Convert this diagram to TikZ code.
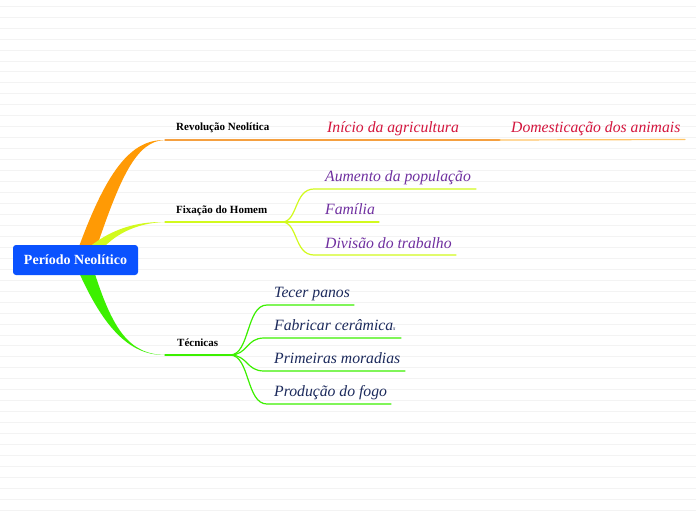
\documentclass[tikz,border=0pt]{standalone}
\usepackage{fontspec}
\setmainfont{Liberation Serif}
\definecolor{nodeblue}{HTML}{0A52FF}
\definecolor{borange}{HTML}{FF9A05}
\definecolor{lorange}{HTML}{F5A040}
\definecolor{paleorange}{HTML}{FFC466}
\definecolor{byellow}{HTML}{D2FA1E}
\definecolor{bgreen}{HTML}{3CF000}
\definecolor{redtxt}{HTML}{D4163E}
\definecolor{purptxt}{HTML}{7030A0}
\definecolor{navytxt}{HTML}{1C2A5C}
\definecolor{bgline}{HTML}{F3F3F3}
\tikzset{
  rootbox/.style={fill=nodeblue,rounded corners=3pt,text=white,font=\fontsize{14}{16}\selectfont\bfseries,minimum width=125pt,minimum height=30pt,inner sep=0pt},
  toplabel/.style={anchor=base west,inner sep=0pt,font=\fontsize{11}{13}\selectfont\bfseries,text=black},
  leaf/.style={anchor=base west,inner sep=0pt,font=\fontsize{15.7}{18}\selectfont\itshape},
  thinline/.style={line width=1.2pt,line cap=round}
}
\begin{document}
\begin{tikzpicture}[x=1pt,y=-1pt]
\useasboundingbox (0,0) rectangle (696,520);
\fill[white] (0,0) rectangle (696,520);
% background ruling
\foreach \n in {0,...,46}{
  \draw[bgline,line width=0.6pt] (0,{6+10.96*\n}) -- (696,{6+10.96*\n});
}
% coordinates
\coordinate (rev) at (165,140);
\coordinate (fix) at (165,222);
\coordinate (tec) at (165,355);
\coordinate (fixj) at (282,222);
\coordinate (tecj) at (230,355);
% thick tapered branches
\fill[borange] (77,252) .. controls (106,172) and (130,139.4) .. (rev) .. controls (136,140.8) and (120,178) .. (95,252) -- cycle;
\fill[byellow] (88,248) .. controls (110,230) and (135,221.4) .. (fix) .. controls (135,222.8) and (112,236) .. (100,252) -- cycle;
\fill[bgreen] (77,268) .. controls (102,325) and (128,355.6) .. (tec) .. controls (128,354.2) and (112,328) .. (93,268) -- cycle;
% root node
\node[rootbox] (root) at (75.5,260) {Período Neolítico};
% top-level labels
\node[toplabel] (lrev) at (176,130) {Revolução Neolítica};
\node[toplabel] (lfix) at (176,213.5) {Fixação do Homem};
\node[toplabel] (ltec) at (177,346) {Técnicas};
% first branch lines
\draw[thinline,lorange] (rev) -- (500,140);
\draw[thinline,paleorange] (500,140) -- (685,139.5);
\draw[thinline,byellow] (fix) -- (fixj);
\draw[thinline,bgreen] (tec) -- (tecj);
% red leaves
\node[leaf,text=redtxt] (agri) at (327,132) {Início da agricultura};
\node[leaf,text=redtxt] (dom) at (511,132) {Domesticação dos animais};
% purple leaves
\node[leaf,text=purptxt] (aum) at (325,181) {Aumento da população};
\node[leaf,text=purptxt] (fam) at (325,214.5) {Família};
\node[leaf,text=purptxt] (div) at (325,248) {Divisão do trabalho};
\coordinate (aumE) at (476,189);
\coordinate (famE) at (379,222);
\coordinate (divE) at (456,255);
\draw[thinline,byellow] (fixj) .. controls (298,222) and (294,189) .. (314,189) -- (aumE);
\draw[thinline,byellow] (fixj) -- (famE);
\draw[thinline,byellow] (fixj) .. controls (298,222) and (294,255) .. (314,255) -- (divE);
% navy leaves
\node[leaf,text=navytxt] (tecer) at (274,297.5) {Tecer panos};
\node[leaf,text=navytxt] (fabr) at (274,330.5) {Fabricar cerâmica{\fontsize{6}{7}\selectfont s}};
\node[leaf,text=navytxt] (prim) at (274,363.5) {Primeiras moradias};
\node[leaf,text=navytxt] (prod) at (274,396.5) {Produção do fogo};
\coordinate (tecerE) at (354,305);
\coordinate (fabrE) at (401,338);
\coordinate (primE) at (405,371);
\coordinate (prodE) at (391,404);
\draw[thinline,bgreen] (tecj) .. controls (250,355) and (246,305) .. (267,305) -- (tecerE);
\draw[thinline,bgreen] (tecj) .. controls (248,355) and (246,338) .. (264,338) -- (fabrE);
\draw[thinline,bgreen] (tecj) .. controls (248,355) and (246,371) .. (264,371) -- (primE);
\draw[thinline,bgreen] (tecj) .. controls (250,355) and (246,404) .. (267,404) -- (prodE);
\end{tikzpicture}
\end{document}
